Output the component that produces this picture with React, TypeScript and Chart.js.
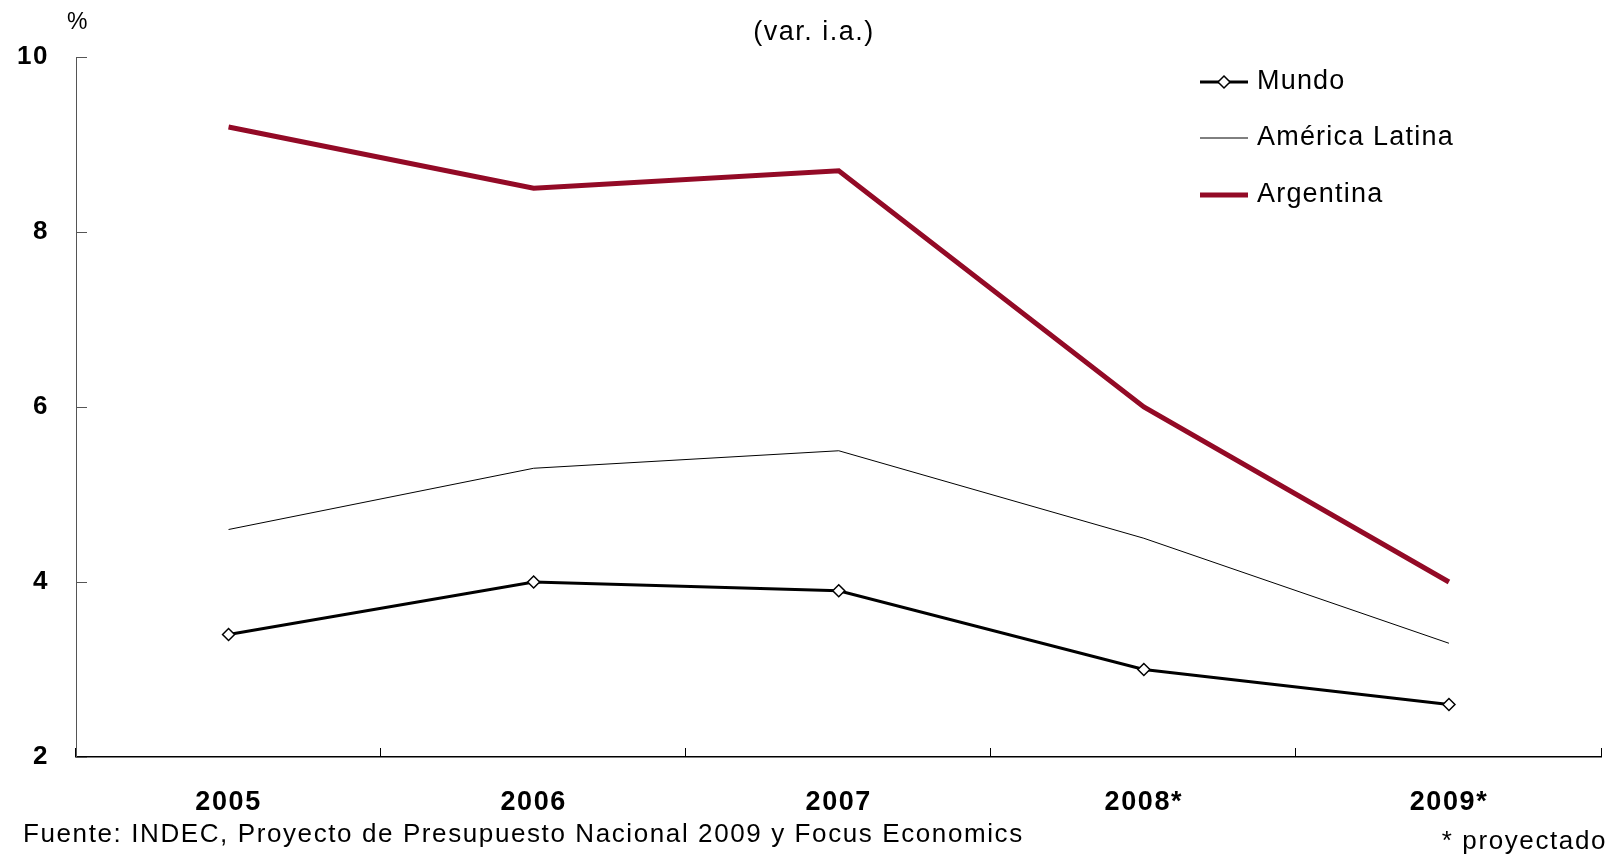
import React, { useEffect, useRef } from "react";
import { Chart, registerables } from "chart.js";

Chart.register(...registerables);

const categories = ["2005", "2006", "2007", "2008*", "2009*"];
const mundo = [3.4, 4.0, 3.9, 3.0, 2.6];
const americaLatina = [4.6, 5.3, 5.5, 4.5, 3.3];
const argentina = [9.2, 8.5, 8.7, 6.0, 4.0];
const seriesNames = ["Mundo", "América Latina", "Argentina"];
const yMin = 2;
const yMax = 10;
const yStep = 2;
const titleText = "(var. i.a.)";
const unitText = "%";
const sourceText = "Fuente: INDEC, Proyecto de Presupuesto Nacional 2009 y Focus Economics";
const noteText = "* proyectado";

const FONT = '"Liberation Sans", Arial, Helvetica, sans-serif';
const RED = "#930A26";

const spacingPlugin = {
  id: "spacing",
  beforeDraw(chart: any) {
    chart.ctx.letterSpacing = "1.6px";
  },
};

const decorPlugin = {
  id: "decor",
  afterDraw(chart: any) {
    const ctx = chart.ctx;
    const { left, right, bottom } = chart.chartArea;
    const ys = chart.scales.y;
    ctx.save();
    // inside tick marks on y axis
    ctx.strokeStyle = "#555";
    ctx.lineWidth = 1;
    ys.ticks.forEach((t: any) => {
      const py = Math.round(ys.getPixelForValue(t.value)) + 0.5;
      ctx.beginPath();
      ctx.moveTo(left, py);
      ctx.lineTo(left + 11, py);
      ctx.stroke();
    });
    // inside tick marks on x axis (category boundaries)
    ctx.strokeStyle = "#000";
    const n = categories.length;
    for (let i = 0; i <= n; i++) {
      const px = Math.round(left + ((right - left) * i) / n) - 0.5;
      ctx.beginPath();
      ctx.moveTo(px, bottom);
      ctx.lineTo(px, bottom - 9);
      ctx.stroke();
    }
    // texts
    ctx.fillStyle = "#000";
    ctx.textBaseline = "middle";
    ctx.letterSpacing = "1.5px";
    ctx.font = `27px ${FONT}`;
    ctx.textAlign = "center";
    ctx.fillText(titleText, 814, 33);
    ctx.letterSpacing = "0px";
    ctx.font = `23px ${FONT}`;
    ctx.textAlign = "left";
    ctx.fillText(unitText, 67, 23);
    ctx.letterSpacing = "1.6px";
    ctx.font = `26px ${FONT}`;
    ctx.textAlign = "left";
    ctx.fillText(sourceText, 23, 835);
    ctx.textAlign = "right";
    ctx.fillText(noteText, 1607, 842);
    // legend
    const legendX1 = 1200;
    const legendX2 = 1248;
    const legendYs = [82, 138, 195];
    chart.data.datasets.forEach((ds: any, i: number) => {
      const ly = legendYs[i];
      ctx.strokeStyle = ds.borderColor;
      ctx.lineWidth = ds.borderWidth;
      ctx.beginPath();
      ctx.moveTo(legendX1, ly);
      ctx.lineTo(legendX2, ly);
      ctx.stroke();
      if (ds.pointStyle === "rectRot" && ds.pointRadius > 0) {
        const cx = (legendX1 + legendX2) / 2;
        const r = ds.pointRadius;
        ctx.beginPath();
        ctx.moveTo(cx, ly - r);
        ctx.lineTo(cx + r, ly);
        ctx.lineTo(cx, ly + r);
        ctx.lineTo(cx - r, ly);
        ctx.closePath();
        ctx.fillStyle = "#fff";
        ctx.fill();
        ctx.lineWidth = ds.pointBorderWidth;
        ctx.strokeStyle = ds.pointBorderColor;
        ctx.stroke();
      }
      ctx.fillStyle = "#000";
      ctx.letterSpacing = "1.2px";
      ctx.font = `27px ${FONT}`;
      ctx.textAlign = "left";
      ctx.fillText(ds.label, 1257, ly);
    });
    ctx.restore();
  },
};

function ChartCanvas() {
  const ref = useRef<HTMLCanvasElement | null>(null);
  useEffect(() => {
    if (!ref.current) return;
    const chart = new Chart(ref.current, {
      type: "line",
      data: {
        labels: categories,
        datasets: [
          {
            label: seriesNames[0],
            data: mundo,
            borderColor: "#000",
            borderWidth: 3,
            pointStyle: "rectRot",
            pointRadius: 6,
            pointBackgroundColor: "#fff",
            pointBorderColor: "#000",
            pointBorderWidth: 1.5,
            tension: 0,
          },
          {
            label: seriesNames[1],
            data: americaLatina,
            borderColor: "#000",
            borderWidth: 1,
            pointRadius: 0,
            tension: 0,
          },
          {
            label: seriesNames[2],
            data: argentina,
            borderColor: RED,
            borderWidth: 5,
            pointRadius: 0,
            tension: 0,
          },
        ],
      },
      options: {
        responsive: false,
        animation: false,
        devicePixelRatio: 1,
        layout: { padding: { left: 0, right: 1, top: 57, bottom: 0 } },
        plugins: {
          legend: { display: false },
          title: { display: false },
          tooltip: { enabled: false },
        },
        scales: {
          x: {
            type: "category",
            offset: true,
            grid: { display: true, drawOnChartArea: false, drawTicks: false, offset: true, color: "transparent" },
            border: { display: true, color: "#000", width: 1.5 },
            ticks: {
              color: "#000",
              font: { family: FONT, size: 27, weight: "bold" },
              padding: 29,
              maxRotation: 0,
            },
            afterFit(scale: any) {
              scale.height = 97;
            },
          },
          y: {
            min: yMin,
            max: yMax,
            grid: { display: true, drawOnChartArea: false, drawTicks: false, color: "transparent" },
            border: { display: true, color: "#555", width: 1 },
            ticks: {
              stepSize: yStep,
              color: "#000",
              font: { family: FONT, size: 26, weight: "bold" },
              padding: 27,
            },
            afterFit(scale: any) {
              scale.width = 76;
            },
          },
        },
      },
      plugins: [spacingPlugin, decorPlugin],
    });
    return () => chart.destroy();
  }, []);
  return <canvas ref={ref} width={1609} height={854} style={{ display: "block" }} />;
}

export default function App() {
  return (
    <div style={{ position: "fixed", left: 0, top: 0, width: 1609, height: 854, background: "#fff" }}>
      <ChartCanvas />
    </div>
  );
}
